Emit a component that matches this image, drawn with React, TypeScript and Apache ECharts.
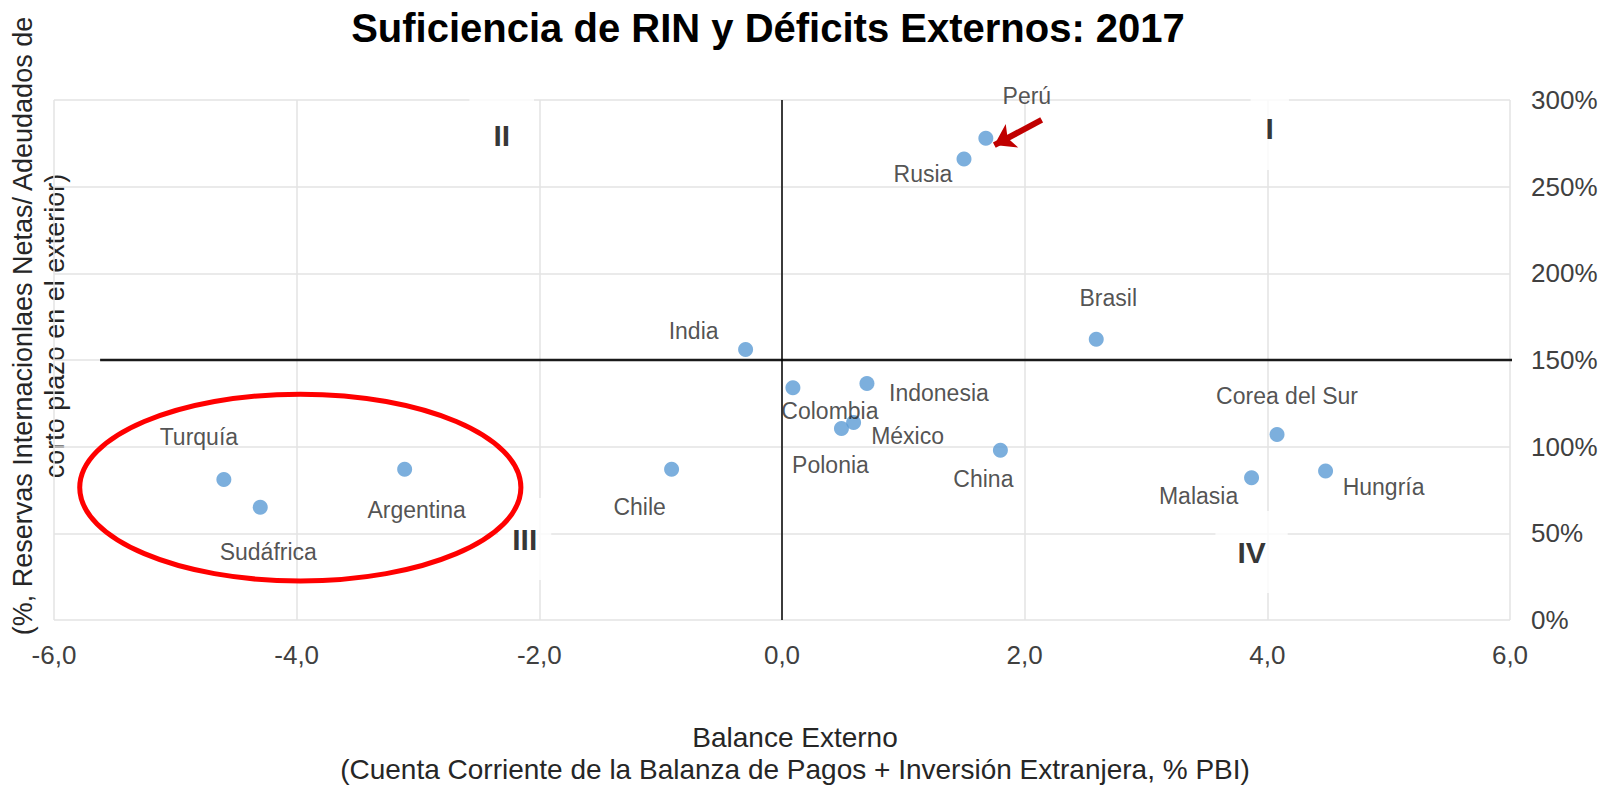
import React, { useEffect, useRef } from "react";
import * as echarts from "echarts";

// ---- Data ----
const countries = [
  "Perú", "Rusia", "Brasil", "India", "Indonesia", "Colombia", "México", "Polonia",
  "China", "Corea del Sur", "Malasia", "Hungría", "Turquía", "Sudáfrica", "Argentina", "Chile",
];
const balanceExterno = [1.68, 1.5, 2.59, -0.3, 0.7, 0.09, 0.59, 0.49, 1.8, 4.08, 3.87, 4.48, -4.6, -4.3, -3.11, -0.91];
const reservasRatio = [278, 266, 162, 156, 136.5, 134, 114, 110.5, 98, 107, 82, 86, 81, 65, 87, 87];

const quadrantNames = ["I", "II", "III", "IV"];
const quadrantX = [4.02, -2.31, -2.12, 3.87];
const quadrantY = [283.3, 279.8, 46.7, 39.2];

const xTicks = { min: -6, max: 6, interval: 2 };
const yTicks = { min: 0, max: 300, interval: 50 };
const thresholdY = 150;
const thresholdXRange = [-5.62, 6.04];

const arrowFrom = [2.14, 288.5];
const arrowTo = [1.75, 274];

const ellipseSpec = [-3.97, 76.4, 1.818, 53.9]; // cx, cy, rx, ry in data units

// label offsets (px) for each country, same order as countries
const labelOffsets = [
  [41, -42], [-41, 15], [12, -41], [-52, -19], [72, 10], [37, 23], [54, 14], [-11, 37],
  [-17, 29], [10, -39], [-53, 18], [58, 16], [-25, -43], [8, 45], [12, 41], [-32, 38],
];
const quadrantPadding = [
  [26, 15], [26, 24], [26, 14], [26, 22],
];

const FONT = "Arial, 'Liberation Sans', Helvetica, sans-serif";

export default function App() {
  const ref = useRef<HTMLDivElement>(null);

  useEffect(() => {
    if (!ref.current) return;
    const chart = echarts.init(ref.current, undefined, { renderer: "svg" });

    const points = countries.map((name, i) => ({
      name,
      value: [balanceExterno[i], reservasRatio[i]],
    }));

    const quadrants = quadrantNames.map((name, i) => ({
      name,
      value: [quadrantX[i], quadrantY[i]],
      label: { padding: quadrantPadding[i] },
    }));

    const option: any = {
      animation: false,
      backgroundColor: "#ffffff",
      title: {
        text: "Suficiencia de RIN y Déficits Externos: 2017",
        left: 768,
        top: 8,
        textAlign: "center",
        padding: 0,
        textStyle: { fontFamily: FONT, fontSize: 40, fontWeight: "bold", color: "#000000" },
      },
      grid: { left: 54, right: 102, top: 100, bottom: 166, containLabel: false },
      xAxis: {
        type: "value",
        min: xTicks.min,
        max: xTicks.max,
        interval: xTicks.interval,
        axisLine: { show: false },
        axisTick: { show: false },
        splitLine: { show: true, lineStyle: { color: "#e3e3e3", width: 1.5 } },
        axisLabel: {
          margin: 22,
          fontFamily: FONT,
          fontSize: 26,
          color: "#404040",
          formatter: (v: number) => v.toFixed(1).replace(".", ","),
        },
      },
      yAxis: {
        type: "value",
        position: "right",
        min: yTicks.min,
        max: yTicks.max,
        interval: yTicks.interval,
        axisLine: { show: false },
        axisTick: { show: false },
        splitLine: { show: true, lineStyle: { color: "#e3e3e3", width: 1.5 } },
        axisLabel: {
          margin: 21,
          fontFamily: FONT,
          fontSize: 26,
          color: "#404040",
          formatter: (v: number) => `${v}%`,
        },
      },
      graphic: [
        {
          type: "text",
          x: 39,
          y: 326,
          rotation: Math.PI / 2,
          style: {
            text: "(%, Reservas Internacionlaes Netas/ Adeudados de\ncorto plazo en el exterior)",
            font: `27px ${FONT}`,
            fill: "#262626",
            align: "center",
            verticalAlign: "middle",
            lineHeight: 32,
          },
        },
        {
          type: "text",
          x: 795,
          y: 753,
          style: {
            text: "Balance Externo\n(Cuenta Corriente de la Balanza de Pagos + Inversión Extranjera, % PBI)",
            font: `28px ${FONT}`,
            fill: "#262626",
            align: "center",
            verticalAlign: "middle",
            lineHeight: 32,
          },
        },
      ],
      series: [
        {
          type: "line",
          name: "umbral",
          data: [[thresholdXRange[0], thresholdY], [thresholdXRange[1], thresholdY]],
          symbol: "none",
          clip: false,
          silent: true,
          lineStyle: { color: "#1a1a1a", width: 2.5 },
          z: 3,
          markLine: {
            silent: true,
            symbol: ["none", "arrow"],
            symbolSize: 20,
            label: { show: false },
            lineStyle: { color: "#c00000", width: 6, type: "solid" },
            data: [[{ coord: arrowFrom }, { coord: arrowTo }]],
          },
        },
        {
          type: "line",
          name: "eje",
          data: [[0, yTicks.min], [0, yTicks.max]],
          symbol: "none",
          silent: true,
          lineStyle: { color: "#000000", width: 1.5 },
          z: 3,
        },
        {
          type: "custom",
          name: "elipse",
          silent: true,
          clip: false,
          data: [ellipseSpec],
          encode: { x: 0, y: 1 },
          renderItem: (params: any, api: any) => {
            const c = api.coord([api.value(0), api.value(1)]);
            const e = api.coord([api.value(0) + api.value(2), api.value(1) + api.value(3)]);
            return {
              type: "ellipse",
              shape: { cx: c[0], cy: c[1], rx: Math.abs(e[0] - c[0]), ry: Math.abs(c[1] - e[1]) },
              style: { fill: "none", stroke: "#ff0000", lineWidth: 5 },
            };
          },
          z: 4,
        },
        {
          type: "scatter",
          name: "cuadrantes",
          data: quadrants,
          symbolSize: 1,
          silent: true,
          itemStyle: { color: "rgba(0,0,0,0)" },
          label: {
            show: true,
            position: "inside",
            formatter: "{b}",
            fontFamily: FONT,
            fontSize: 30,
            fontWeight: "bold",
            color: "#000000",
            backgroundColor: "#ffffff",
          },
          z: 2,
        },
        {
          type: "scatter",
          name: "países",
          data: points,
          symbolSize: 15,
          itemStyle: { color: "#5b9bd5" },
          label: {
            show: true,
            position: "inside",
            formatter: "{b}",
            fontFamily: FONT,
            fontSize: 23,
            color: "#262626",
          },
          labelLayout: (params: any) => {
            const o = labelOffsets[params.dataIndex] || [0, 0];
            return { dx: o[0], dy: o[1], hideOverlap: false };
          },
          z: 5,
        },
      ],
    };

    chart.setOption(option);
    return () => chart.dispose();
  }, []);

  return (
    <div
      ref={ref}
      style={{ position: "fixed", left: 0, top: 0, width: 1612, height: 786, background: "#fff" }}
    />
  );
}
